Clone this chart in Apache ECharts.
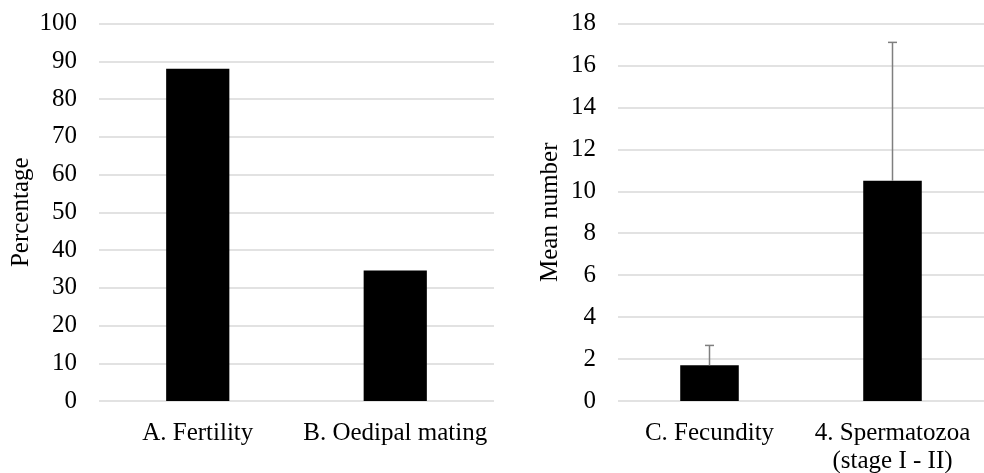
<!DOCTYPE html>
<html>
<head>
<meta charset="utf-8">
<script src="https://cdn.jsdelivr.net/npm/echarts@6/dist/echarts.min.js"></script>
<style>html,body{margin:0;padding:0;background:#fff}#c{width:984px;height:473px}</style>
</head>
<body>
<div id="c"></div>
<script>
var categoriesLeft = ['A. Fertility', 'B. Oedipal mating'];
var valuesLeft = [88, 34.6];
var categoriesRight = ['C. Fecundity', '4. Spermatozoa\n(stage I - II)'];
var valuesRight = [1.7, 10.5];
var errorsRight = [0.95, 6.6];
var leftTicks = {min: 0, max: 100, interval: 10};
var rightTicks = {min: 0, max: 18, interval: 2};

var FONT = "'Liberation Serif', 'Times New Roman', serif";
var chart = echarts.init(document.getElementById('c'));

var errData = valuesRight.map(function (v, i) { return [i, v, v + errorsRight[i]]; });

function yAxisCfg(idx, ticks, name, gap) {
  return {
    type: 'value', gridIndex: idx, min: ticks.min, max: ticks.max, interval: ticks.interval,
    name: name, nameLocation: 'middle', nameGap: gap, nameRotate: 90,
    nameTextStyle: {fontFamily: FONT, fontSize: 25, color: '#000'},
    axisLine: {show: false}, axisTick: {show: false},
    axisLabel: {fontFamily: FONT, fontSize: 25, color: '#000', margin: 22},
    splitLine: {show: true, lineStyle: {color: '#d9d9d9', width: 1.5}}
  };
}
function xAxisCfg(idx, cats) {
  return {
    type: 'category', gridIndex: idx, data: cats,
    axisLine: {show: false}, axisTick: {show: false},
    axisLabel: {fontFamily: FONT, fontSize: 25, color: '#000', margin: 18, lineHeight: 28, interval: 0}
  };
}

chart.setOption({
  animation: false,
  backgroundColor: '#fff',
  grid: [
    {left: 99, right: 490, top: 23.5, bottom: 72, containLabel: false, outerBoundsMode: 'none'},
    {left: 618, right: 0, top: 23.5, bottom: 72, containLabel: false, outerBoundsMode: 'none'}
  ],
  xAxis: [xAxisCfg(0, categoriesLeft), xAxisCfg(1, categoriesRight)],
  yAxis: [yAxisCfg(0, leftTicks, 'Percentage', 65), yAxisCfg(1, rightTicks, 'Mean number', 55)],
  series: [
    {type: 'bar', xAxisIndex: 0, yAxisIndex: 0, data: valuesLeft, barWidth: '32%',
     itemStyle: {color: '#000'}},
    {type: 'bar', xAxisIndex: 1, yAxisIndex: 1, data: valuesRight, barWidth: '32%',
     itemStyle: {color: '#000'}},
    {type: 'custom', xAxisIndex: 1, yAxisIndex: 1, data: errData, z: 10,
     renderItem: function (params, api) {
       var p0 = api.coord([api.value(0), api.value(1)]);
       var p1 = api.coord([api.value(0), api.value(2)]);
       var hw = 4.5;
       var st = {stroke: '#7f7f7f', lineWidth: 1.5};
       return {type: 'group', children: [
         {type: 'line', shape: {x1: p0[0], y1: p0[1], x2: p1[0], y2: p1[1]}, style: st},
         {type: 'line', shape: {x1: p1[0] - hw, y1: p1[1], x2: p1[0] + hw, y2: p1[1]}, style: st}
       ]};
     }}
  ]
});
</script>
</body>
</html>
